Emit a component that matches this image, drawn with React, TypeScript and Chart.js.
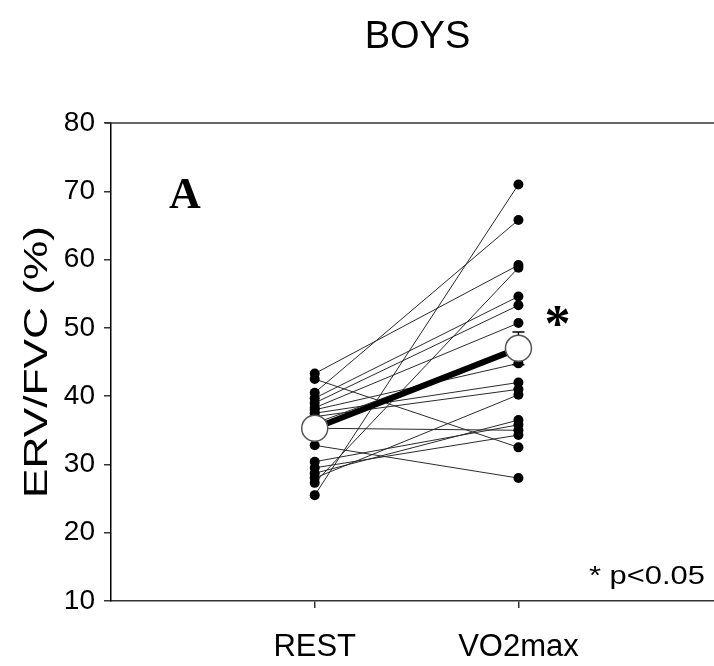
import React, { useEffect, useRef } from "react";
import { Chart, registerables } from "chart.js";

Chart.register(...registerables);

// ---- data ----
const categories = ["REST", "VO2max"];
const restValues = [25.5, 27.3, 28.0, 28.7, 29.5, 30.4, 32.8, 35.3, 43.3, 42.5, 40.5, 39.7, 39.0, 38.3, 38.0, 37.5, 37.0, 36.0];
const vo2maxValues = [71.0, 58.8, 40.2, 36.5, 34.3, 35.8, 28.0, 35.0, 59.2, 32.5, 65.8, 54.6, 53.3, 50.7, 44.8, 42.0, 41.0, 47.0];
const meanValues = [35.3, 47.0];
const semValues = [1.3, 2.4];
const yTicks = [10, 20, 30, 40, 50, 60, 70, 80];
const yTitle = "ERV/FVC (%)";

const SANS = "Arial, 'Liberation Sans', sans-serif";
const SERIF = "'Times New Roman', 'Liberation Serif', serif";

const annotationPlugin = {
  id: "annotations",
  beforeDatasetDraw(chart: any, args: any) {
    if (args.index !== 0) return;
    const { ctx, scales } = chart;
    const xs = scales.x;
    const ys = scales.y;
    ctx.save();
    ctx.strokeStyle = "#000";
    ctx.lineWidth = 1.5;
    meanValues.forEach((m, i) => {
      const x = xs.getPixelForValue(i + 1);
      const yTop = ys.getPixelForValue(m + semValues[i]);
      const yBot = ys.getPixelForValue(m - semValues[i]);
      ctx.beginPath();
      ctx.moveTo(x, yTop);
      ctx.lineTo(x, yBot);
      ctx.moveTo(x - 6, yTop);
      ctx.lineTo(x + 6, yTop);
      ctx.moveTo(x - 6, yBot);
      ctx.lineTo(x + 6, yBot);
      ctx.stroke();
    });
    ctx.restore();
  },
  afterDraw(chart: any) {
    const { ctx, chartArea } = chart;
    const { left, right, top, bottom } = chartArea;
    ctx.save();
    // top frame line
    ctx.strokeStyle = "#333";
    ctx.lineWidth = 1.5;
    ctx.beginPath();
    ctx.moveTo(left - 6, top);
    ctx.lineTo(right, top);
    ctx.stroke();

    ctx.fillStyle = "#000";
    ctx.textAlign = "center";
    ctx.textBaseline = "middle";
    // title
    ctx.font = `38px ${SANS}`;
    ctx.fillText("BOYS", (left + right) / 2 + 5, 38);
    // y-axis title (rotated, slightly stretched along its length)
    ctx.save();
    ctx.font = `33px ${SANS}`;
    const w = ctx.measureText(yTitle).width;
    ctx.translate(38, (top + bottom) / 2);
    ctx.rotate(-Math.PI / 2);
    ctx.scale(272 / w, 1);
    ctx.fillText(yTitle, 0, 0);
    ctx.restore();
    // panel letter
    ctx.font = `bold 44px ${SERIF}`;
    ctx.fillText("A", left + 74, top + 74);
    // significance star
    ctx.font = `bold 52px ${SERIF}`;
    ctx.fillText("*", chart.scales.x.getPixelForValue(2) + 39, top + 205);
    // footnote
    ctx.font = `25px ${SANS}`;
    ctx.textAlign = "right";
    ctx.save();
    const fw = ctx.measureText("* p<0.05").width;
    ctx.translate(right - 9, bottom - 24);
    ctx.scale(116 / fw, 1);
    ctx.fillText("* p<0.05", 0, 0);
    ctx.restore();
    ctx.restore();
  },
};

export default function App() {
  const canvasRef = useRef<HTMLCanvasElement | null>(null);

  useEffect(() => {
    const canvas = canvasRef.current;
    if (!canvas) return;

    const subjectSets = restValues.map((r, i) => ({
      label: `S${i + 1}`,
      data: [
        { x: 1, y: r },
        { x: 2, y: vo2maxValues[i] },
      ],
      borderColor: "#2a2a2a",
      borderWidth: 1,
      pointRadius: 5,
      pointBackgroundColor: "#000",
      pointBorderColor: "#000",
      pointBorderWidth: 0,
      tension: 0,
    }));

    const meanSet = {
      label: "mean",
      data: meanValues.map((m, i) => ({ x: i + 1, y: m })),
      borderColor: "#000",
      borderWidth: 6,
      pointRadius: 13,
      pointBackgroundColor: "#fff",
      pointBorderColor: "#555",
      pointBorderWidth: 1.5,
      tension: 0,
    };

    const chart = new Chart(canvas, {
      type: "line",
      data: { datasets: [meanSet, ...subjectSets] as any },
      options: {
        animation: false,
        responsive: false,
        devicePixelRatio: 1,
        layout: { autoPadding: false, padding: { top: 123, right: 0, bottom: 0, left: 0 } },
        plugins: {
          legend: { display: false },
          tooltip: { enabled: false },
          title: { display: false },
        },
        scales: {
          x: {
            type: "linear",
            min: 0,
            max: 2.96,
            afterBuildTicks: (s: any) => {
              s.ticks = categories.map((_, i) => ({ value: i + 1 }));
            },
            afterFit: (s: any) => {
              s.height = 65;
              s.paddingLeft = 0;
              s.paddingRight = 0;
            },
            ticks: {
              callback: (v: any) => categories[Math.round(v) - 1] ?? "",
              font: { family: SANS, size: 31 },
              color: "#000",
              padding: 21,
              maxRotation: 0,
              autoSkip: false,
            },
            grid: { display: true, drawOnChartArea: false, drawTicks: true, tickLength: 7, color: "#333", lineWidth: 1.5 },
            border: { display: true, color: "#333", width: 1.5 },
          },
          y: {
            type: "linear",
            min: 10,
            max: 80,
            afterBuildTicks: (s: any) => {
              s.ticks = yTicks.map((v) => ({ value: v }));
            },
            afterFit: (s: any) => {
              s.width = 111;
            },
            ticks: {
              font: { family: SANS, size: 28 },
              color: "#000",
              padding: 9,
            },
            grid: { display: true, drawOnChartArea: false, drawTicks: true, tickLength: 7, color: "#333", lineWidth: 1.5 },
            border: { display: true, color: "#000", width: 1.5 },
            title: { display: false },
          },
        },
      },
      plugins: [annotationPlugin],
    });

    return () => chart.destroy();
  }, []);

  return (
    <div style={{ position: "absolute", left: 0, top: 0, width: 714, height: 666, background: "#fff", overflow: "hidden" }}>
      <canvas ref={canvasRef} width={714} height={666} style={{ display: "block" }} />
    </div>
  );
}
